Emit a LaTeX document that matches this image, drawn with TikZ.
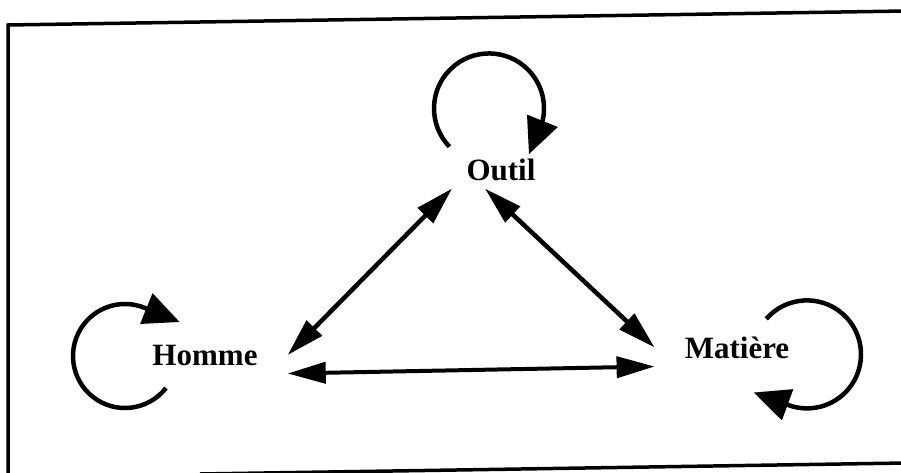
\documentclass[tikz,border=0pt]{standalone}
\usepackage{fontspec}
\setmainfont{Liberation Serif}
\usetikzlibrary{arrows.meta}
\begin{document}
\begin{tikzpicture}[
	mot/.style={font=\bfseries\fontsize{31}{36}\selectfont, inner xsep=30pt, inner ysep=8pt, anchor=base},
	lien/.style={line width=4.5pt, {Triangle[length=38pt,width=21pt]}-{Triangle[length=38pt,width=21pt]}},
	boucle/.style={line width=4.5pt, -{Triangle[length=36pt,width=32pt]}}
]
				\useasboundingbox (0,0) rectangle (901pt,472pt);
				% cadre
				\draw[line width=3.5pt] (8pt,-5pt)--(8pt,447pt)--(905pt,461pt);
				\draw[line width=3.5pt] (200pt,-2pt)--(905pt,9pt);
				\node[mot] (outil) at (501pt,292pt) {Outil};
				\node[mot] (homme) at (205pt,107pt) {Homme};
				\node[mot] (matiere) at (737pt,114pt) {Matière};
				\draw[lien] (homme.east)--([xshift=-49pt]outil.south);
				\draw[lien] ([xshift=-16pt]outil.south)--(matiere.west);
				\draw[lien,line width=4pt] (homme.south east)--(matiere.south west);
				% boucles
				\draw[boucle] ([shift={(-12pt,61pt)}]outil.center) ++(224:55pt) arc[start angle=224,end angle=-12,radius=55pt] -- ++(-112:37pt);
				\draw[boucle] ([shift={(-80pt,-1pt)}]homme.center) ++(-38:52pt) arc[start angle=-38,end angle=-292,radius=52pt] -- ++(-22:38pt);
				\draw[boucle] ([shift={(70pt,-7pt)}]matiere.center) ++(139:54pt) arc[start angle=139,end angle=-110,radius=54pt] -- ++(160:37pt);
			\end{tikzpicture}
\end{document}
